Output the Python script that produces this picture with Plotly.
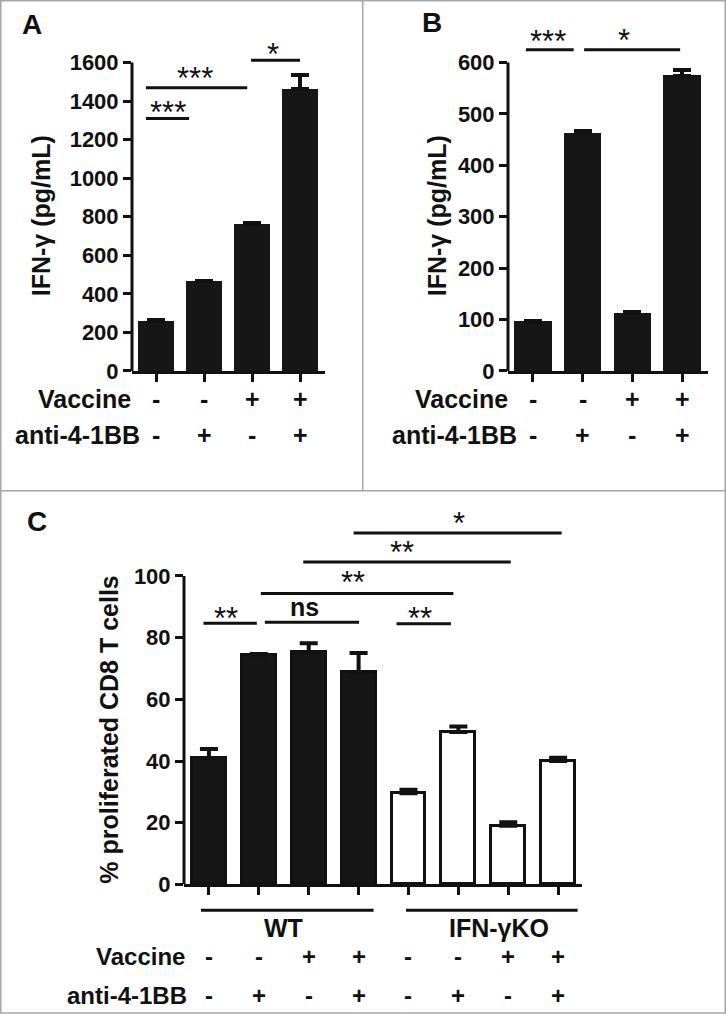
import plotly.graph_objects as go

W, H = 726, 1027

# ---------------- data ----------------
a_values = [258, 465, 760, 1462]
a_errors = [6, 4, 5, 75]
b_values = [96, 463, 112, 574]
b_errors = [2, 3, 2, 11]
c_values = [41.0, 74.3, 75.2, 68.7, 29.6, 49.4, 19.0, 40.0]
c_errors = [2.9, 0.4, 3.0, 6.3, 1.1, 1.8, 1.2, 1.1]

vaccine_ab = ['-', '-', '+', '+']
anti_ab = ['-', '+', '-', '+']
vaccine_c = ['-', '-', '+', '+', '-', '-', '+', '+']
anti_c = ['-', '+', '-', '+', '-', '+', '-', '+']
c_fill = ['#161616'] * 4 + ['white'] * 4
groups_c = ['WT', 'IFN-γKO']
groups_c_span = [(-0.16, 3.30, 1.5), (3.95, 7.39, 5.81)]

a_ticks = [0, 200, 400, 600, 800, 1000, 1200, 1400, 1600]
b_ticks = [0, 100, 200, 300, 400, 500, 600]
c_ticks = [0, 20, 40, 60, 80, 100]

# significance: (x0, x1, line_y, label, text_x, text_y)
a_sig = [(-0.21, 0.69, 1310, '***', 0.25, 1382),
         (-0.21, 1.90, 1469, '***', 0.81, 1556),
         (1.98, 3.00, 1612, '*', 2.44, 1684)]
b_sig = [(-0.14, 0.82, 625, '***', 0.30, 656),
         (1.03, 2.96, 625, '*', 1.83, 658)]
c_sig = [(-0.11, 0.96, 84.7, '**', 0.35, 88.9),
         (1.12, 3.01, 85.0, 'ns', 1.92, 89.2),
         (1.04, 4.90, 94.3, '**', 2.89, 100.5),
         (1.89, 6.05, 104.5, '**', 3.86, 110.1),
         (2.90, 7.07, 113.9, '*', 5.01, 119.6),
         (3.76, 4.85, 84.5, '**', 4.23, 88.9)]

FONT = 'Liberation Sans, Arial, sans-serif'
BLACK = '#111111'


def px_x(p):
    return p / W


def px_y(p):
    return 1 - p / H


def ydom(px_zero, px_top_tick, top_tick, ymax):
    per = (px_zero - px_top_tick) / top_tick
    return [px_y(px_zero), px_y(px_zero - ymax * per)]


fig = go.Figure()

panels = [
    dict(name='A', xa='x', ya='y', vals=a_values, errs=a_errors, n=4,
         xdom=[px_x(132), px_x(325)], xr=[-0.5, 3.52],
         ydom=ydom(375.7, 63.3, 1600, 1700), yr=[0, 1700], ticks=a_ticks,
         ymaxline=1600, sig=a_sig, width=0.75, line=0, colors=['#161616'] * 4),
    dict(name='B', xa='x2', ya='y2', vals=b_values, errs=b_errors, n=4,
         xdom=[px_x(508), px_x(708)], xr=[-0.5, 3.52],
         ydom=ydom(375.7, 63.3, 600, 680), yr=[0, 680], ticks=b_ticks,
         ymaxline=600, sig=b_sig, width=0.75, line=0, colors=['#161616'] * 4),
    dict(name='C', xa='x3', ya='y3', vals=c_values, errs=c_errors, n=8,
         xdom=[px_x(184), px_x(581.6)], xr=[-0.5, 7.47],
         ydom=ydom(895.8, 583.3, 100, 122), yr=[0, 122], ticks=c_ticks,
         ymaxline=100, sig=c_sig, width=0.68, line=3, colors=c_fill),
]

shapes = []
annotations = []

for i, p in enumerate(panels):
    xs = list(range(p['n']))
    fig.add_trace(go.Bar(
        x=xs, y=p['vals'], xaxis=p['xa'], yaxis=p['ya'],
        width=p['width'],
        marker=dict(color=p['colors'], line=dict(color=BLACK, width=p['line'])),
        error_y=dict(type='data', symmetric=False, array=p['errs'],
                     arrayminus=[0] * p['n'], color=BLACK, thickness=4, width=9),
        showlegend=False, hoverinfo='skip'))
    sfx = '' if i == 0 else str(i + 1)
    fig.layout['xaxis' + sfx] = dict(
        domain=p['xdom'], range=p['xr'], anchor=p['ya'], showgrid=False,
        zeroline=False, showline=True, linewidth=3, linecolor=BLACK,
        tickvals=xs, ticks='outside', ticklen=8, tickwidth=3, tickcolor=BLACK,
        showticklabels=False, fixedrange=True)
    fig.layout['yaxis' + sfx] = dict(
        domain=p['ydom'], range=p['yr'], anchor=p['xa'], showgrid=False,
        zeroline=False, showline=False, tickvals=p['ticks'], ticks='outside',
        ticklen=8, tickwidth=3, tickcolor=BLACK,
        tickfont=dict(family=FONT, size=22, color=BLACK, weight='bold'),
        fixedrange=True)
    # y axis line (stops at the last tick)
    shapes.append(dict(type='line', xref=p['xa'] + ' domain', yref=p['ya'],
                       x0=0, x1=0, y0=0, y1=p['ymaxline'],
                       line=dict(color=BLACK, width=3)))
    # significance brackets
    for (x0, x1, ly, lab, tx, ty) in p['sig']:
        shapes.append(dict(type='line', xref=p['xa'], yref=p['ya'],
                           x0=x0, x1=x1, y0=ly, y1=ly,
                           line=dict(color=BLACK, width=3)))
        star = lab != 'ns'
        annotations.append(dict(
            x=tx, y=ty, xref=p['xa'], yref=p['ya'], text=lab, showarrow=False,
            xanchor='center', yanchor='middle', yshift=-8 if star else 2,
            font=dict(family=FONT, size=31 if star else 25, color=BLACK,
                      weight='normal' if star else 'bold')))

# treatment rows
rows = [
    (panels[0], vaccine_ab, anti_ab, 404, 441, 133, 142, 25),
    (panels[1], vaccine_ab, anti_ab, 404, 441, 509.7, 519, 25),
    (panels[2], vaccine_c, anti_c, 969, 1008, 187, 189, 24),
]
for (p, vac, anti, yv, ya, lv, la, fs) in rows:
    f = dict(family=FONT, size=fs, color=BLACK, weight='bold')
    annotations.append(dict(x=px_x(lv), y=px_y(yv), xref='paper', yref='paper',
                            text='Vaccine', showarrow=False, xanchor='right',
                            yanchor='middle', font=f))
    annotations.append(dict(x=px_x(la), y=px_y(ya), xref='paper', yref='paper',
                            text='anti-4-1BB', showarrow=False, xanchor='right',
                            yanchor='middle', font=f))
    for k, (sv, sa) in enumerate(zip(vac, anti)):
        annotations.append(dict(x=k, y=px_y(yv), xref=p['xa'], yref='paper',
                                text=sv, showarrow=False, xanchor='center',
                                yanchor='middle', font=f))
        annotations.append(dict(x=k, y=px_y(ya), xref=p['xa'], yref='paper',
                                text=sa, showarrow=False, xanchor='center',
                                yanchor='middle', font=f))

# genotype groups in C
for g, (g0, g1, gx) in zip(groups_c, groups_c_span):
    shapes.append(dict(type='line', xref='x3', yref='paper', x0=g0, x1=g1,
                       y0=px_y(922), y1=px_y(922), line=dict(color=BLACK, width=3)))
    annotations.append(dict(x=gx, y=px_y(940), xref='x3', yref='paper', text=g,
                            showarrow=False, xanchor='center', yanchor='middle',
                            font=dict(family=FONT, size=25, color=BLACK, weight='bold')))

# axis titles
titles = [('IFN-γ (pg/mL)', 41, 219), ('IFN-γ (pg/mL)', 437, 219),
          ('% proliferated CD8 T cells', 109, 739)]
for t, cx, cy in titles:
    annotations.append(dict(x=px_x(cx), y=px_y(cy), xref='paper', yref='paper',
                            text=t, textangle=-90, showarrow=False,
                            xanchor='center', yanchor='middle',
                            font=dict(family=FONT, size=25, color=BLACK, weight='bold')))

# panel letters
for lab, cx, cy in [('A', 31.5, 24.5), ('B', 431.5, 23), ('C', 36.5, 528)]:
    annotations.append(dict(x=px_x(cx), y=px_y(cy), xref='paper', yref='paper',
                            text=lab, showarrow=False, xanchor='center',
                            yanchor='middle',
                            font=dict(family=FONT, size=28, color=BLACK, weight='bold')))

# panel frames
GRAY = '#a6a6a6'
shapes += [
    dict(type='rect', xref='paper', yref='paper', x0=px_x(0.75), x1=px_x(725.25),
         y0=px_y(1026), y1=px_y(0.75), line=dict(color=GRAY, width=1.5)),
    dict(type='line', xref='paper', yref='paper', x0=px_x(362.7), x1=px_x(362.7),
         y0=px_y(497), y1=px_y(0), line=dict(color=GRAY, width=1.5)),
    dict(type='line', xref='paper', yref='paper', x0=0, x1=1,
         y0=px_y(497), y1=px_y(497), line=dict(color=GRAY, width=1.5)),
]

fig.update_layout(width=W, height=H, margin=dict(l=0, r=0, t=0, b=0),
                  autosize=False, paper_bgcolor='white', plot_bgcolor='white',
                  shapes=shapes, annotations=annotations, bargap=0,
                  font=dict(family=FONT, color=BLACK))

fig.write_html('out.html', config={'displayModeBar': False},
               post_script="document.body.style.margin='0';"
                           "document.body.style.overflow='hidden';")
